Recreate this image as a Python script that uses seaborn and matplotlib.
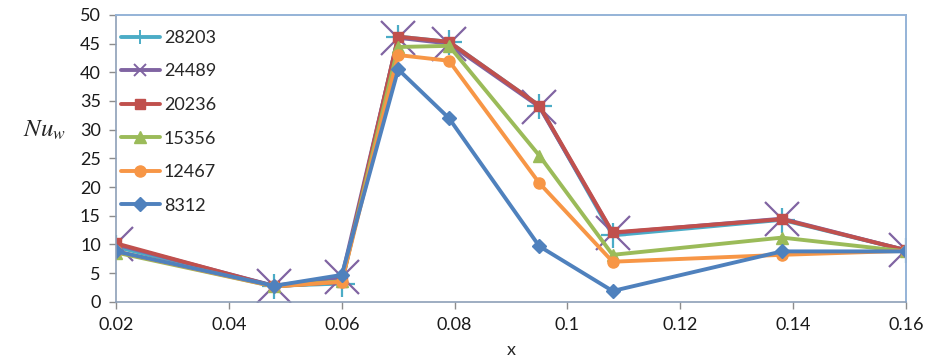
import matplotlib
matplotlib.use("Agg")
import matplotlib.pyplot as plt
from matplotlib.lines import Line2D
import seaborn as sns
import numpy as np

# Measurement stations along the wall
x_pos = [0.02, 0.048, 0.06, 0.07, 0.079, 0.095, 0.108, 0.138, 0.16]

# Local wall Nusselt number for each Reynolds number
nu_28203 = [9.6, 2.8, 3.2, 46.2, 45.3, 34.2, 11.6, 14.3, 9.0]
nu_24489 = [10.0, 2.8, 4.3, 46.0, 45.0, 34.0, 12.0, 14.5, 9.0]
nu_20236 = [10.2, 2.7, 3.5, 46.2, 45.3, 34.2, 12.1, 14.4, 9.0]
nu_15356 = [8.6, 2.7, 3.6, 44.4, 44.6, 25.5, 8.2, 11.2, 8.8]
nu_12467 = [8.8, 2.7, 3.5, 43.0, 42.0, 20.7, 7.0, 8.2, 8.9]
nu_8312 = [8.8, 2.8, 4.7, 40.5, 32.0, 9.7, 1.9, 8.8, 8.8]

series_labels = ["28203", "24489", "20236", "15356", "12467", "8312"]
series_values = [nu_28203, nu_24489, nu_20236, nu_15356, nu_12467, nu_8312]
colors = ["#4BACC6", "#8064A2", "#C0504D", "#9BBB59", "#F79646", "#4F81BD"]
markers = ["+", "x", "s", "^", "o", "D"]
msizes = [18, 24, 7, 8, 8, 7]
legend_msizes = [10, 9, 7, 8, 8, 7]

y_ticks = list(range(0, 51, 5))
x_ticks = [0.02, 0.04, 0.06, 0.08, 0.1, 0.12, 0.14, 0.16]
x_ticklabels = ["0.02", "0.04", "0.06", "0.08", "0.1", "0.12", "0.14", "0.16"]

sns.set_theme(style="white")
plt.rcParams["font.family"] = ["Lato", "DejaVu Sans"]
plt.rcParams["mathtext.fontset"] = "stix"

fig = plt.figure(figsize=(9.36, 3.62), dpi=100)
ax = fig.add_axes([0.124, 0.166, 0.844, 0.793])

for lab, vals, c, m, ms in zip(series_labels, series_values, colors, markers, msizes):
    sns.lineplot(x=x_pos, y=vals, ax=ax, color=c, marker=m, markersize=ms,
                 linewidth=2.8, markeredgecolor=c, markeredgewidth=1.6 if m in "+x" else 1,
                 label=lab, legend=False)

ax.set_xlim(0.02, 0.16)
ax.set_ylim(0, 50)
ax.set_xticks(x_ticks)
ax.set_xticklabels(x_ticklabels)
ax.set_yticks(y_ticks)
ax.tick_params(axis="both", which="both", direction="out", length=5, width=1,
               color="#8C8C8C", labelsize=13, labelcolor="#1a1a1a", pad=6,
               bottom=True, left=True)

for side in ["left", "bottom"]:
    ax.spines[side].set_color("#8EA0B8")
    ax.spines[side].set_linewidth(1.2)
for side in ["top", "right"]:
    ax.spines[side].set_color("#95B3D7")
    ax.spines[side].set_linewidth(1.4)

ax.set_xlabel("x", fontsize=13, labelpad=6)
ax.set_ylabel("")
fig.text(0.048, 0.64, r"$Nu_w$", fontsize=18, ha="center", va="center")

handles = [Line2D([0], [0], color=c, marker=m, markersize=lms, linewidth=2.8,
                  markeredgecolor=c, markeredgewidth=1.4 if m in "+x" else 1)
           for c, m, lms in zip(colors, markers, legend_msizes)]
ax.legend(handles, series_labels, loc="upper left", bbox_to_anchor=(-0.008, 0.985),
          frameon=False, fontsize=13, handlelength=2.2, handletextpad=0.2,
          labelspacing=0.97, borderaxespad=0.2)

fig.savefig("out.png", dpi=100)
